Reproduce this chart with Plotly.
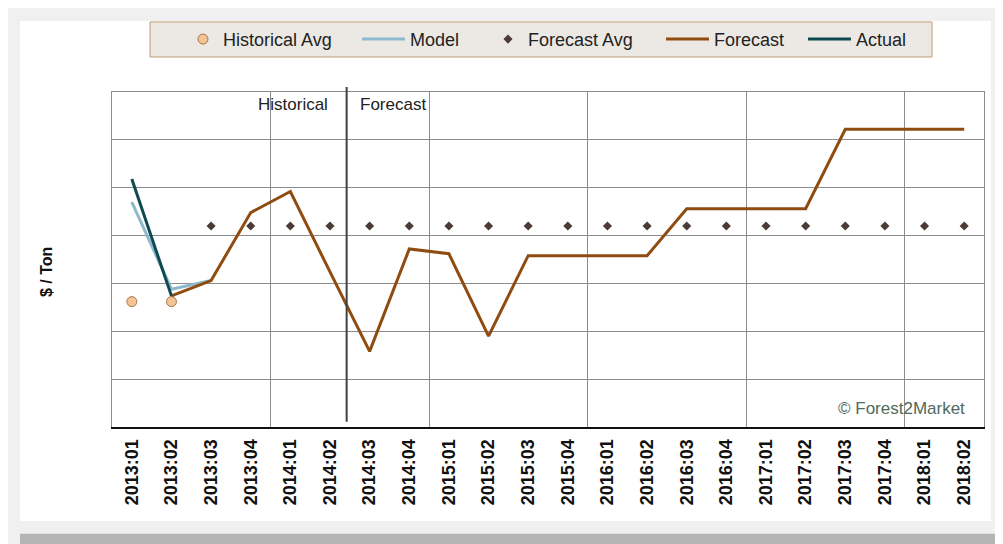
import plotly.graph_objects as go

categories = ["2013:01", "2013:02", "2013:03", "2013:04",
              "2014:01", "2014:02", "2014:03", "2014:04",
              "2015:01", "2015:02", "2015:03", "2015:04",
              "2016:01", "2016:02", "2016:03", "2016:04",
              "2017:01", "2017:02", "2017:03", "2017:04",
              "2018:01", "2018:02"]

historical_avg = [33.1, 33.1] + [None] * 20
model = [43.5, 34.4, 35.3] + [None] * 19
forecast_avg = [None, None] + [41.0] * 20
forecast = [None, 33.7, 35.3, 42.4, 44.6, 36.2, 27.9, 38.6, 38.1, 29.5,
            37.9, 37.9, 37.9, 37.9, 42.8, 42.8, 42.8, 42.8, 51.1, 51.1, 51.1, 51.1]
actual = [45.9, 33.7] + [None] * 20

FONT = "Arial, Liberation Sans, sans-serif"
PLOT_BG = "#ece9e4"
GRID = "#8c8c8c"
TXT = "#222222"

fig = go.Figure()

fig.add_trace(go.Scatter(x=categories, y=historical_avg, name="Historical Avg",
                         mode="markers", legend="legend",
                         marker=dict(symbol="circle", size=10, color="#f3c495",
                                     line=dict(color="#a8764a", width=1))))
fig.add_trace(go.Scatter(x=categories, y=model, name="Model", mode="lines",
                         legend="legend2",
                         line=dict(color="#8db9cc", width=3)))
fig.add_trace(go.Scatter(x=categories, y=forecast_avg, name="Forecast Avg",
                         mode="markers", legend="legend3",
                         marker=dict(symbol="diamond", size=7, color="#4b3a36")))
fig.add_trace(go.Scatter(x=categories, y=forecast, name="Forecast", mode="lines",
                         legend="legend4",
                         line=dict(color="#8f4c10", width=3)))
fig.add_trace(go.Scatter(x=categories, y=actual, name="Actual", mode="lines",
                         legend="legend5",
                         line=dict(color="#0f4a50", width=3)))
# helper trace for the year-boundary grid axis
fig.add_trace(go.Scatter(x=[None], y=[None], xaxis="x2", showlegend=False,
                         hoverinfo="skip"))

# frame decorations (card, bottom shadow, legend box)
fig.add_shape(type="rect", xref="paper", yref="paper",
              x0=-0.1055, x1=1.008, y0=-0.2806, y1=1.212,
              fillcolor="white", line=dict(width=0), layer="below")
fig.add_shape(type="rect", xref="paper", yref="paper",
              x0=-0.1055, x1=1.05, y0=-0.319, y1=-0.40,
              fillcolor="#b4b4b4", line=dict(width=0), layer="below")
fig.add_shape(type="rect", xref="paper", yref="paper",
              x0=0.0436, x1=0.9404, y0=1.1045, y1=1.209,
              fillcolor=PLOT_BG, line=dict(color="#bf9c74", width=1), layer="below")
# historical / forecast divider
fig.add_shape(type="line", xref="x", yref="paper", x0=5.42, x1=5.42,
              y0=0.016, y1=1.015, line=dict(color="#404040", width=2))

fig.add_annotation(x=5.42, y=0.964, xref="x", yref="paper", text="Historical",
                   showarrow=False, xanchor="right", yanchor="middle", xshift=-17,
                   font=dict(family=FONT, size=17, color=TXT))
fig.add_annotation(x=5.42, y=0.964, xref="x", yref="paper", text="Forecast",
                   showarrow=False, xanchor="left", yanchor="middle", xshift=11,
                   font=dict(family=FONT, size=17, color=TXT))
fig.add_annotation(x=0.9805, y=0.054, xref="paper", yref="paper",
                   text="© Forest2Market", showarrow=False, xanchor="right",
                   yanchor="middle",
                   font=dict(family=FONT, size=17, color="#50695a"))
# y-axis title
fig.add_annotation(x=-0.0745, y=0.4627, xref="paper", yref="paper",
                   text="$ / Ton", showarrow=False, textangle=-90,
                   xanchor="center", yanchor="middle",
                   font=dict(family=FONT, size=16, color="#111111", weight="bold"))

LEG_Y = 1.157


def leg(x, itemwidth=30):
    return dict(orientation="h", x=x, y=LEG_Y, xanchor="left", yanchor="middle",
                bgcolor="rgba(0,0,0,0)", borderwidth=0, itemwidth=itemwidth,
                font=dict(family=FONT, size=18, color=TXT))


fig.update_layout(
    width=995, height=536,
    margin=dict(l=104, r=19, t=84, b=117),
    paper_bgcolor="#f0f0f0",
    plot_bgcolor=PLOT_BG,
    font=dict(family=FONT, color=TXT),
    showlegend=True,
    legend=leg(0.0814),
    legend2=leg(0.281, 43),
    legend3=leg(0.4312),
    legend4=leg(0.6296, 43),
    legend5=leg(0.7924, 43),
    xaxis=dict(type="category", categoryorder="array", categoryarray=categories,
               range=[-0.5, 21.5], showgrid=False, tickangle=-90,
               tickfont=dict(family=FONT, size=18, color="#111111", weight="bold"),
               ticks="", ticklabelstandoff=3,
               showline=True, linecolor="#111111", linewidth=2),
    xaxis2=dict(overlaying="x", side="top", range=[-0.5, 21.5], tick0=3.5, dtick=4,
                showgrid=True, gridcolor=GRID, gridwidth=1, showticklabels=False,
                ticks="", showline=True, linecolor=GRID, linewidth=1, zeroline=False),
    yaxis=dict(range=[20, 55], dtick=5, showgrid=True, gridcolor=GRID, gridwidth=1,
               showticklabels=False, ticks="", zeroline=False,
               showline=True, linecolor=GRID, linewidth=1, mirror=True),
)

fig.write_html("out.html")
